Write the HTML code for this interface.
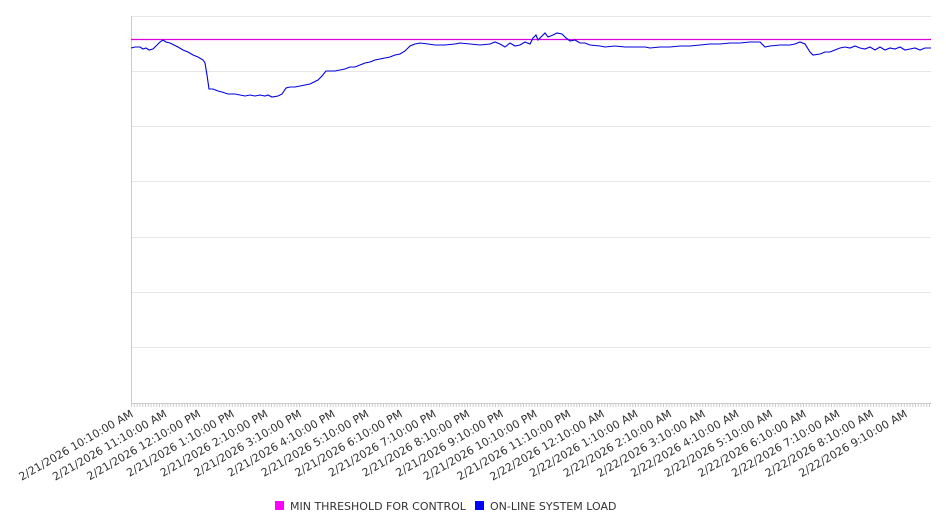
<!DOCTYPE html>
<html><head><style>body{margin:0;background:#fff;width:946px;height:526px;overflow:hidden}</style></head><body>
<svg width="946" height="526" xmlns="http://www.w3.org/2000/svg" font-family="DejaVu Sans, sans-serif" font-size="11" fill="#333">
<g stroke="#e6e6e6" stroke-width="1">
<line x1="131" x2="931" y1="16.5" y2="16.5"/><line x1="131" x2="931" y1="71.5" y2="71.5"/><line x1="131" x2="931" y1="126.5" y2="126.5"/><line x1="131" x2="931" y1="181.5" y2="181.5"/><line x1="131" x2="931" y1="237.5" y2="237.5"/><line x1="131" x2="931" y1="292.5" y2="292.5"/><line x1="131" x2="931" y1="347.5" y2="347.5"/>
</g>
<line x1="131.5" x2="131.5" y1="16" y2="403" stroke="#ccc"/>
<line x1="131" x2="931" y1="403.5" y2="403.5" stroke="#ccc"/>
<g id="ticks"></g>
<line x1="131" x2="931" y1="39.5" y2="39.5" stroke="#e000e0" stroke-width="1.2"/>
<polyline fill="none" stroke="#0000dd" stroke-width="1.1" points="131,48 135,47 140,47 143,49 146,48 149,50 153,49 156,46 160,42 163,40 166,42 170,43 174,45 178,47 183,50 188,52 193,55 198,57 203,60 205,63 207,75 209,89 213,89 218,91 222,92 228,94 235,94 240,95 245,96 250,95 255,96 260,95 265,96 268,95 272,97 278,96 282,94 286,88 290,87 295,87 300,86 305,85 310,84 314,82 318,80 322,76 326,71 335,71 340,70 345,69 350,67 355,67 360,65 365,63 370,62 375,60 380,59 385,58 390,57 395,55 400,54 405,51 410,46 415,44 420,43 428,44 435,45 445,45 455,44 460,43 470,44 480,45 490,44 495,42 500,44 505,47 510,43 515,46 520,45 525,42 530,44 533,38 536,35 538,40 541,37 545,33 548,37 553,35 557,33 562,34 566,38 570,41 575,40 580,43 585,43 590,45 600,46 605,47 615,46 625,47 635,47 645,47 650,48 660,47 670,47 680,46 690,46 700,45 710,44 720,44 730,43 740,43 750,42 760,42 765,47 770,46 780,45 790,45 795,44 800,42 805,44 810,52 813,55 820,54 825,52 830,52 835,50 840,48 845,47 850,48 855,46 860,48 865,49 870,47 875,50 880,47 885,50 890,48 895,49 900,47 905,50 910,49 915,48 920,50 925,48 931,48"/>
<g id="labels"></g>
<rect x="275" y="501" width="9" height="9" fill="#ff00ff"/>
<text x="290" y="510">MIN THRESHOLD FOR CONTROL</text>
<rect x="475" y="501" width="9" height="9" fill="#0000ff"/>
<text x="490" y="510">ON-LINE SYSTEM LOAD</text>
</svg>
<script>
var ns="http://www.w3.org/2000/svg";
var t=document.getElementById("ticks");
for(var x=131;x<=931;x+=2.8){var l=document.createElementNS(ns,"line");l.setAttribute("x1",x+.5);l.setAttribute("x2",x+.5);l.setAttribute("y1",403);l.setAttribute("y2",407);l.setAttribute("stroke","#ccc");t.appendChild(l);}
var g=document.getElementById("labels");
var labs=[];
for(var i=0;i<24;i++){var h=(10+i)%24;var d=(10+i)>=24?"2/22/2026":"2/21/2026";var ap=h<12?"AM":"PM";var hh=h%12;if(hh==0)hh=12;labs.push(d+" "+hh+":10:00 "+ap);}
labs.forEach(function(s,i){var x=131+i*33.65;var tx=document.createElementNS(ns,"text");tx.setAttribute("text-anchor","end");tx.setAttribute("transform","translate("+(x+3)+",416) rotate(-30)");tx.textContent=s;g.appendChild(tx);});
</script>
</body></html>
